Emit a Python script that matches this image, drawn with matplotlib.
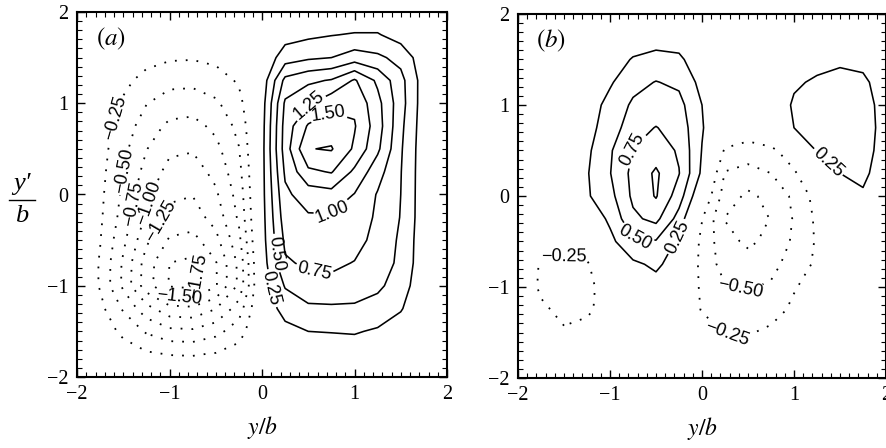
import numpy as np
import matplotlib
matplotlib.use('Agg')
import matplotlib.pyplot as plt
from matplotlib.lines import Line2D
from matplotlib.ticker import MultipleLocator

plt.rcParams['font.family'] = ['Liberation Serif', 'DejaVu Serif']
plt.rcParams['mathtext.fontset'] = 'stix'

# measurement grid (y/b across, y'/b up)
grid = [-2.0, -1.75, -1.5, -1.25, -1.0, -0.75, -0.5, -0.25, 0.0,
        0.25, 0.5, 0.75, 1.0, 1.25, 1.5, 1.75, 2.0]

# panel (a) field, one row per y'/b value from -2 to 2
field_a = np.array([
    [0, 0, 0, 0, 0, 0, 0, 0, 0, 0, 0, 0.02, 0.03, 0.02, 0, 0, 0],
    [0, -0.04, -0.12, -0.21, -0.26, -0.27, -0.23, -0.14, 0, 0.05, 0.09, 0.10, 0.12, 0.10, 0.05, 0.01, 0],
    [0, -0.10, -0.31, -0.53, -0.68, -0.70, -0.58, -0.36, 0.02, 0.17, 0.25, 0.26, 0.27, 0.22, 0.13, 0.03, 0],
    [0, -0.18, -0.53, -0.91, -1.17, -1.20, -1.01, -0.63, 0.06, 0.35, 0.45, 0.46, 0.46, 0.40, 0.27, 0.05, 0],
    [0, -0.27, -0.80, -1.39, -1.77, -1.82, -1.53, -0.95, 0.10, 0.52, 0.67, 0.68, 0.63, 0.55, 0.38, 0.06, 0],
    [0, -0.27, -0.79, -1.37, -1.75, -1.81, -1.52, -0.94, 0.12, 0.72, 0.79, 0.80, 0.74, 0.62, 0.45, 0.08, 0],
    [0, -0.24, -0.69, -1.20, -1.53, -1.58, -1.33, -0.82, 0.15, 0.80, 0.86, 0.87, 0.84, 0.67, 0.46, 0.09, 0],
    [0, -0.21, -0.60, -1.04, -1.33, -1.37, -1.15, -0.71, 0.16, 0.88, 0.97, 0.97, 0.93, 0.70, 0.49, 0.10, 0],
    [0, -0.19, -0.55, -0.94, -1.20, -1.24, -1.04, -0.65, 0.17, 0.95, 1.12, 1.16, 0.99, 0.73, 0.50, 0.10, 0],
    [0, -0.17, -0.49, -0.84, -1.08, -1.11, -0.93, -0.58, 0.17, 1.04, 1.45, 1.52, 1.20, 0.85, 0.51, 0.10, 0],
    [0, -0.15, -0.43, -0.74, -0.95, -0.98, -0.82, -0.51, 0.17, 1.12, 1.74, 1.77, 1.46, 1.05, 0.53, 0.10, 0],
    [0, -0.12, -0.36, -0.63, -0.80, -0.83, -0.69, -0.43, 0.16, 1.10, 1.53, 1.62, 1.52, 1.12, 0.56, 0.11, 0],
    [0, -0.10, -0.28, -0.49, -0.62, -0.64, -0.54, -0.33, 0.14, 1.04, 1.22, 1.42, 1.45, 1.08, 0.60, 0.12, 0],
    [0, -0.06, -0.19, -0.33, -0.42, -0.43, -0.36, -0.22, 0.10, 0.82, 0.95, 1.02, 1.28, 0.95, 0.58, 0.13, 0],
    [0, -0.03, -0.10, -0.17, -0.22, -0.23, -0.19, -0.12, 0.05, 0.38, 0.46, 0.50, 0.62, 0.55, 0.42, 0.10, 0],
    [0, -0.01, -0.04, -0.07, -0.09, -0.09, -0.08, -0.05, 0.00, 0.15, 0.20, 0.24, 0.27, 0.27, 0.14, 0.04, 0],
    [0, 0, 0, 0, 0, 0, 0, 0, 0, 0, 0.02, 0.02, 0.05, 0.05, 0, 0, 0],
])

# panel (b) field
field_b = np.array([
    [0, 0, 0, 0, 0, 0, 0, 0, 0, 0, 0, 0, 0, 0, 0, 0, 0],
    [0, -0.03, -0.08, -0.05, -0.01, 0, 0, 0, 0, -0.05, -0.07, -0.04, 0, 0, 0, 0, 0],
    [0, -0.08, -0.22, -0.15, -0.05, 0, 0.02, 0, -0.10, -0.26, -0.27, -0.20, -0.08, -0.02, 0, 0, 0],
    [0, -0.20, -0.32, -0.30, -0.12, 0, 0.05, 0.02, -0.27, -0.36, -0.42, -0.35, -0.20, -0.08, -0.02, 0, 0],
    [0, -0.30, -0.34, -0.33, -0.10, 0.08, 0.15, 0.05, -0.30, -0.48, -0.52, -0.47, -0.27, -0.14, -0.04, 0, 0],
    [0, -0.28, -0.30, -0.28, 0.02, 0.20, 0.30, 0.12, -0.33, -0.60, -0.64, -0.57, -0.40, -0.20, -0.06, 0, 0],
    [0, -0.12, -0.15, -0.10, 0.18, 0.46, 0.48, 0.20, -0.32, -0.66, -0.80, -0.68, -0.46, -0.22, -0.06, 0, 0],
    [0, -0.04, -0.03, 0.05, 0.30, 0.70, 0.82, 0.40, -0.24, -0.76, -0.88, -0.74, -0.48, -0.20, -0.05, 0.02, 0],
    [0, 0.02, 0.08, 0.22, 0.42, 0.80, 1.02, 0.62, 0.00, -0.62, -0.80, -0.68, -0.45, -0.15, 0.10, 0.22, 0.08],
    [0, 0.03, 0.10, 0.23, 0.49, 0.82, 1.04, 0.76, 0.20, -0.52, -0.60, -0.50, -0.28, -0.03, 0.25, 0.30, 0.12],
    [0, 0.03, 0.08, 0.20, 0.47, 0.76, 0.88, 0.72, 0.24, -0.28, -0.35, -0.30, -0.12, 0.27, 0.36, 0.34, 0.15],
    [0, 0.02, 0.06, 0.17, 0.36, 0.65, 0.76, 0.65, 0.27, -0.02, -0.10, 0.00, 0.25, 0.34, 0.40, 0.36, 0.16],
    [0, 0.01, 0.04, 0.12, 0.33, 0.54, 0.60, 0.58, 0.25, 0.02, 0.02, 0.08, 0.28, 0.36, 0.40, 0.35, 0.15],
    [0, 0, 0.02, 0.06, 0.22, 0.42, 0.51, 0.45, 0.17, 0.01, 0, 0.02, 0.22, 0.28, 0.34, 0.30, 0.12],
    [0, 0, 0, 0.02, 0.12, 0.27, 0.32, 0.30, 0.08, 0, 0, 0, 0.08, 0.18, 0.20, 0.18, 0.05],
    [0, 0, 0, 0, 0.04, 0.10, 0.15, 0.12, 0.02, 0, 0, 0, 0, 0.04, 0.05, 0.04, 0],
    [0, 0, 0, 0, 0, 0, 0, 0, 0, 0, 0, 0, 0, 0, 0, 0, 0],
])

levels_a = [-1.75, -1.5, -1.25, -1.0, -0.75, -0.5, -0.25,
            0.25, 0.5, 0.75, 1.0, 1.25, 1.5, 1.75]
levels_b = [-0.75, -0.5, -0.25, 0.25, 0.5, 0.75, 1.0]

# where the contour labels sit
marks_a = {-0.25: [(-1.64, 0.85)], -0.5: [(-1.54, 0.27)],
           -0.75: [(-1.43, -0.1)], -1.0: [(-1.21, -0.1)],
           -1.25: [(-1.07, -0.31)], -1.5: [(-0.89, -1.01)],
           -1.75: [(-0.78, -0.9)],
           0.25: [(0.16, -1.01)], 0.5: [(0.19, -0.64)],
           0.75: [(0.56, -0.9)], 1.0: [(0.74, -0.17)],
           1.25: [(0.49, 1.0)], 1.5: [(0.7, 0.93)]}
marks_b = {-0.25: [(-1.5, -0.6), (0.27, -1.53)], -0.5: [(0.42, -1.0)],
           0.25: [(-0.28, -0.44), (1.36, 0.36)], 0.5: [(-0.73, -0.47)],
           0.75: [(-0.75, 0.51)]}


def fmt(v):
    return f'{v:.2f}'.replace('-', '\u2212')


def draw_panel(ax, field, levels, marks, tag):
    for lv in levels:
        if lv < 0:
            cs = ax.contour(grid, grid, field, levels=[lv], colors='k',
                            linewidths=1.3, linestyles=[(0, (1, 5))])
        else:
            cs = ax.contour(grid, grid, field, levels=[lv], colors='k',
                            linewidths=1.15, linestyles='solid')
        if lv in marks:
            with plt.rc_context({'font.family': ['Liberation Sans', 'DejaVu Sans']}):
                ax.clabel(cs, manual=marks[lv], inline=True,
                          inline_spacing=2, fmt=fmt, fontsize=13)

    ax.set_xlim(-2, 2)
    ax.set_ylim(-2, 2)
    for axis in (ax.xaxis, ax.yaxis):
        axis.set_major_locator(MultipleLocator(1))
        axis.set_minor_locator(MultipleLocator(0.1))
    ax.tick_params(which='both', direction='in', top=True, right=True,
                   labelsize=14.5, pad=6)
    ax.tick_params(which='major', length=6, width=1.0)
    ax.tick_params(which='minor', length=3.5, width=0.8)
    for sp in ax.spines.values():
        sp.set_linewidth(1.5)
    ax.set_xlabel(r'$y/b$', fontsize=17, labelpad=7)
    ax.text(0.05, 0.925, tag, transform=ax.transAxes, fontsize=18,
            ha='left', va='center')


fig = plt.figure(figsize=(8.87, 4.48), dpi=100)
ax_a = fig.add_axes([77 / 887, 71 / 448, 370 / 887, 365 / 448])
ax_b = fig.add_axes([518 / 887, 70 / 448, 368 / 887, 364 / 448])

draw_panel(ax_a, field_a, levels_a, marks_a, r'$(a)$')
draw_panel(ax_b, field_b, levels_b, marks_b, r'$(b)$')

# y'/b written as a stacked fraction
fig.text(22 / 887, 1 - 184 / 448, 'y\u2032', fontsize=19, style='italic',
         ha='center', va='center')
fig.text(22 / 887, 1 - 216 / 448, 'b', fontsize=19, style='italic',
         ha='center', va='center')
fig.add_artist(Line2D([9 / 887, 35 / 887], [1 - 200 / 448, 1 - 200 / 448],
                      transform=fig.transFigure, color='k', linewidth=1.0))

fig.savefig('out.png', dpi=100)
